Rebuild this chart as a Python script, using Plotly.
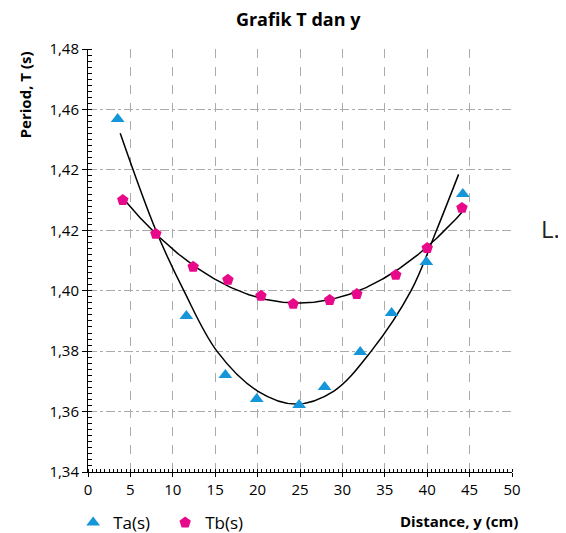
import numpy as np
import plotly.graph_objects as go

# Data
ta_x = [3.5, 11.6, 16.2, 19.9, 24.9, 27.9, 32.1, 35.8, 39.9, 44.2]
ta_y = [1.4568, 1.3916, 1.3721, 1.3642, 1.3622, 1.3681, 1.3797, 1.3926, 1.4095, 1.4320]
tb_x = [4.1, 8.0, 12.4, 16.5, 20.4, 24.2, 28.5, 31.7, 36.3, 40.0, 44.1]
tb_y = [1.4300, 1.4188, 1.4079, 1.4036, 1.3983, 1.3956, 1.3969, 1.3989, 1.4052, 1.4141, 1.4274]

# Trendline of Ta
ta_trend_x = [3.8, 8.0, 11.3, 15.2, 20.0, 24.5, 29.0, 33.4, 38.1, 41.1, 43.7]
ta_trend_y = [1.4521, 1.4200, 1.4000, 1.3800, 1.3668, 1.3625, 1.3668, 1.3800, 1.4000, 1.4200, 1.4385]
tb_fit_range = [4.1, 44.1]

y_tick_vals = [1.34, 1.36, 1.38, 1.40, 1.42, 1.44, 1.46, 1.48]
y_tick_text = ["1,34", "1,36", "1,38", "1,40", "1,42", "1,42", "1,46", "1,48"]
x_tick_vals = [0, 5, 10, 15, 20, 25, 30, 35, 40, 45, 50]

BLUE = "#1596d8"
PINK = "#e8088a"
FONT = "Open Sans"

fig = go.Figure()

c = np.polyfit(tb_x, tb_y, 2)
bx = np.linspace(tb_fit_range[0], tb_fit_range[1], 200)
by = np.polyval(c, bx)

fig.add_trace(go.Scatter(x=ta_trend_x, y=ta_trend_y, mode="lines", line_shape="spline",
                         line=dict(color="black", width=1.5), showlegend=False, hoverinfo="skip"))
fig.add_trace(go.Scatter(x=bx, y=by, mode="lines", line=dict(color="black", width=1.5),
                         showlegend=False, hoverinfo="skip"))

fig.add_trace(go.Scatter(x=ta_x, y=ta_y, mode="markers", name="Ta(s)",
                         marker=dict(symbol="triangle-up", size=12, color=BLUE)))
fig.add_trace(go.Scatter(x=tb_x, y=tb_y, mode="markers", name="Tb(s)",
                         marker=dict(symbol="pentagon", size=12, color=PINK)))

# The page body has an 8px margin, so the figure is 8px smaller than the window
fig.update_layout(
    width=558, height=525,
    margin=dict(l=80, r=54, t=41, b=61, autoexpand=False),
    plot_bgcolor="white", paper_bgcolor="white",
    font=dict(family=FONT, size=15, color="black"),
    title=dict(text="<b>Grafik T dan y</b>", x=0.52, xanchor="center", y=0.977, yanchor="middle",
               font=dict(family=FONT, size=18, color="black")),
    showlegend=True,
    legend=dict(orientation="h", x=-0.035, xanchor="left", y=-0.078, yanchor="top",
                font=dict(family=FONT, size=17), entrywidth=47, entrywidthmode="pixels",
                itemwidth=30, bgcolor="rgba(0,0,0,0)"),
    xaxis=dict(range=[0, 50], tickvals=x_tick_vals, showline=True, linecolor="black", linewidth=1,
               ticks="outside", ticklen=4, tickcolor="black", zeroline=False, automargin=False,
               showgrid=True, gridcolor="#ababab", griddash="dash", gridwidth=1,
               tickfont=dict(size=15),
               minor=dict(dtick=0.5, ticks="inside", ticklen=3, tickcolor="black", showgrid=False)),
    yaxis=dict(range=[1.34, 1.48], tickvals=y_tick_vals, ticktext=y_tick_text, showline=True,
               linecolor="black", linewidth=1, ticks="outside", ticklen=5, tickcolor="black",
               zeroline=False, showgrid=True, gridcolor="#ababab", griddash="dashdot", gridwidth=1,
               tickfont=dict(size=15), automargin=False,
               minor=dict(tickmode="linear", tick0=1.34, dtick=0.002, ticks="inside", ticklen=4,
                          tickcolor="black", tickwidth=1, showgrid=False)),
    annotations=[
        dict(text="<b>Period, T (s)</b>", textangle=-90, xref="paper", yref="paper",
             x=-0.149, y=1.0, xanchor="center", yanchor="top", showarrow=False,
             font=dict(family=FONT, size=15)),
        dict(text="<b>Distance, y (cm)</b>", xref="paper", yref="paper", x=1.02, y=-0.088,
             xanchor="right", yanchor="top", showarrow=False, font=dict(family=FONT, size=15)),
        dict(text="L.", xref="paper", yref="paper", x=1.063, y=0.575, xanchor="left",
             yanchor="middle", showarrow=False, font=dict(family=FONT, size=24, color="#222")),
    ],
)

fig.write_html("out.html")
